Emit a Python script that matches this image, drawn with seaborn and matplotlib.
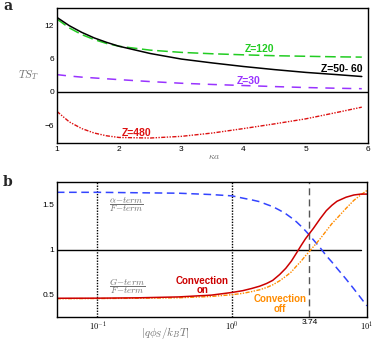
import numpy as np
import pandas as pd
import matplotlib
matplotlib.use("Agg")
import matplotlib.pyplot as plt
import seaborn as sns
from matplotlib.ticker import MultipleLocator, LogLocator, FixedLocator, NullFormatter

sns.set_theme(style="white")
plt.rcParams['font.family'] = ['Liberation Sans', 'DejaVu Sans']
plt.rcParams['mathtext.fontset'] = 'cm'

# ---------------- Panel a data ----------------
ka = [1.0, 1.2, 1.4, 1.6, 1.8, 2.0, 2.5, 3.0, 3.5, 4.0, 4.5, 5.0, 5.5, 5.9]
z50_60 = [13.4, 11.9, 10.7, 9.7, 8.9, 8.2, 6.9, 5.9, 5.2, 4.56, 4.0, 3.5, 3.1, 2.76]
z120 = [13.1, 11.5, 10.3, 9.4, 8.7, 8.2, 7.5, 7.1, 6.85, 6.66, 6.5, 6.4, 6.3, 6.25]
z30 = [3.1, 2.85, 2.65, 2.5, 2.35, 2.2, 1.85, 1.55, 1.33, 1.14, 0.95, 0.78, 0.65, 0.57]
z480 = [-3.5, -5.4, -6.6, -7.4, -7.9, -8.2, -8.3, -8.0, -7.4, -6.6, -5.75, -4.85, -3.7, -2.75]
a_xticks = [1, 2, 3, 4, 5, 6]
a_yticks = [-6, 0, 6, 12]

# ---------------- Panel b data ----------------
phi = [0.05, 0.1, 0.2, 0.4, 0.7, 1.0, 1.2, 1.4, 1.6, 1.8, 2.0, 2.25, 2.5, 2.75, 3.0,
       3.25, 3.5, 3.75, 4.0, 4.5, 5.0, 5.5, 6.0, 7.0, 8.0, 9.0, 10.0]
alpha_term = [1.64, 1.64, 1.635, 1.63, 1.615, 1.60, 1.575, 1.555, 1.535, 1.505, 1.48, 1.44,
              1.40, 1.355, 1.31, 1.26, 1.21, 1.16, 1.11, 1.02, 0.93, 0.86, 0.79, 0.67,
              0.56, 0.46, 0.37]
g_conv_on = [0.455, 0.456, 0.46, 0.47, 0.49, 0.52, 0.54, 0.565, 0.59, 0.62, 0.655, 0.72,
             0.79, 0.87, 0.96, 1.045, 1.12, 1.18, 1.235, 1.345, 1.435, 1.495, 1.54, 1.585,
             1.61, 1.62, 1.62]
g_conv_off = [0.45, 0.452, 0.455, 0.46, 0.475, 0.495, 0.51, 0.53, 0.55, 0.575, 0.605, 0.65,
              0.70, 0.75, 0.815, 0.87, 0.93, 0.98, 1.03, 1.12, 1.21, 1.29, 1.35, 1.46,
              1.55, 1.61, 1.66]
b_xticks = [0.1, 1.0, 3.74, 10.0]
b_xticklabels = [r'$10^{-1}$', r'$10^{0}$', '3.74', r'$10^{1}$']
b_yticks = [0.5, 1.0, 1.5]
b_yticklabels = ['0.5', '1', '1.5']

fig = plt.figure(figsize=(3.74, 3.43), dpi=100)
ax_a = fig.add_axes([0.152, 0.583, 0.832, 0.394])
ax_b = fig.add_axes([0.152, 0.077, 0.829, 0.391])

gray = '#707070'

def style_axes(ax):
    for s in ax.spines.values():
        s.set_visible(True)
        s.set_color('black')
        s.set_linewidth(1.0)
    ax.tick_params(which='both', direction='in', top=False, right=False,
                   labelsize=6, colors='black', pad=2)
    ax.tick_params(which='major', length=4, width=0.8)
    ax.tick_params(which='minor', length=2, width=0.6)
    ax.grid(False)

# ---------------- Panel a ----------------
ax_a.axhline(0, color='black', lw=1.0, zorder=1)
dfa = pd.DataFrame({'ka': ka, 'z50': z50_60, 'z120': z120, 'z30': z30, 'z480': z480})
sns.lineplot(data=dfa, x='ka', y='z120', ax=ax_a, color='#22cc22', lw=1.1,
             linestyle=(0, (7, 3)), errorbar=None)
sns.lineplot(data=dfa, x='ka', y='z50', ax=ax_a, color='black', lw=1.1, errorbar=None)
sns.lineplot(data=dfa, x='ka', y='z30', ax=ax_a, color='#9933ff', lw=1.1,
             linestyle=(0, (6, 5)), errorbar=None)
sns.lineplot(data=dfa, x='ka', y='z480', ax=ax_a, color='#dd1111', lw=1.0,
             linestyle=(0, (3, 1, 1, 1, 1, 1)), errorbar=None)

ax_a.set_xlim(1, 6)
ax_a.set_ylim(-9.2, 15.1)
ax_a.xaxis.set_major_locator(FixedLocator(a_xticks))
ax_a.yaxis.set_major_locator(FixedLocator(a_yticks))
ax_a.xaxis.set_minor_locator(MultipleLocator(0.2))
ax_a.yaxis.set_minor_locator(MultipleLocator(2))
style_axes(ax_a)
ax_a.set_xlabel(r'$\kappa a$', fontsize=7, color=gray, va='center')
ax_a.xaxis.set_label_coords(0.505, -0.096)
ax_a.set_ylabel(r'$TS_T$', fontsize=8, color=gray, rotation=0, va='center', ha='center')
ax_a.yaxis.set_label_coords(-0.09, 0.505)

ax_a.text(4.26, 7.75, 'Z=120', color='#22cc22', fontsize=7.5, fontweight='bold', ha='center', va='center')
ax_a.text(5.57, 4.14, 'Z=50- 60', color='black', fontsize=7.5, fontweight='bold', ha='center', va='center')
ax_a.text(4.08, 2.04, 'Z=30', color='#9933ff', fontsize=7.5, fontweight='bold', ha='center', va='center')
ax_a.text(2.28, -7.33, 'Z=480', color='#dd1111', fontsize=7.5, fontweight='bold', ha='center', va='center')

# ---------------- Panel b ----------------
dfb = pd.DataFrame({'phi': phi, 'alpha': alpha_term, 'on': g_conv_on, 'off': g_conv_off})
ax_b.set_xscale('log')
ax_b.plot([0.05, 9.0], [1, 1], color='black', lw=1.0, zorder=1)
ax_b.axvline(0.1, color='black', lw=1.0, linestyle=(0, (1, 1)), zorder=1)
ax_b.axvline(1.0, color='black', lw=1.0, linestyle=(0, (1, 1)), zorder=1)
ax_b.axvline(3.74, color='#555555', lw=1.0, linestyle=(0, (5, 3)), zorder=1)
sns.lineplot(data=dfb, x='phi', y='alpha', ax=ax_b, color='#3344ff', lw=1.1,
             linestyle=(0, (5, 3)), errorbar=None)
sns.lineplot(data=dfb, x='phi', y='off', ax=ax_b, color='#ff8c00', lw=1.0,
             linestyle=(0, (3, 1, 1, 1, 1, 1)), errorbar=None)
sns.lineplot(data=dfb, x='phi', y='on', ax=ax_b, color='#cc0000', lw=1.1, errorbar=None)

ax_b.set_xlim(0.05, 10.0)
ax_b.set_ylim(0.25, 1.75)
ax_b.xaxis.set_major_locator(FixedLocator(b_xticks))
ax_b.set_xticklabels(b_xticklabels)
ax_b.xaxis.set_minor_locator(LogLocator(base=10, subs=np.arange(2, 10)))
ax_b.xaxis.set_minor_formatter(NullFormatter())
ax_b.yaxis.set_major_locator(FixedLocator(b_yticks))
ax_b.set_yticklabels(b_yticklabels)
ax_b.yaxis.set_minor_locator(MultipleLocator(0.1))
style_axes(ax_b)
ax_b.set_xlabel(r'$|q\phi_S/k_BT|$', fontsize=8, color=gray, va='center')
ax_b.xaxis.set_label_coords(0.348, -0.125)
ax_b.set_ylabel('')

ax_b.text(0.165, 1.5, r'$\dfrac{\alpha\!-\!term}{F\!-\!term}$', color=gray, fontsize=6.5, ha='center', va='center')
ax_b.text(0.165, 0.59, r'$\dfrac{G\!-\!term}{F\!-\!term}$', color=gray, fontsize=6.5, ha='center', va='center')
ax_b.text(0.60, 0.597, 'Convection\non', color='#cc0000', fontsize=7, fontweight='bold',
          ha='center', va='center', linespacing=0.95)
ax_b.text(2.26, 0.39, 'Convection\noff', color='#ff8c00', fontsize=7, fontweight='bold',
          ha='center', va='center', linespacing=0.95)

fig.text(8 / 374, 1 - 6 / 343, 'a', fontsize=10, fontweight='bold', family='DejaVu Serif', ha='center', va='center')
fig.text(8 / 374, 1 - 182 / 343, 'b', fontsize=10, fontweight='bold', family='DejaVu Serif', ha='center', va='center')

fig.savefig('out.png', dpi=100)
